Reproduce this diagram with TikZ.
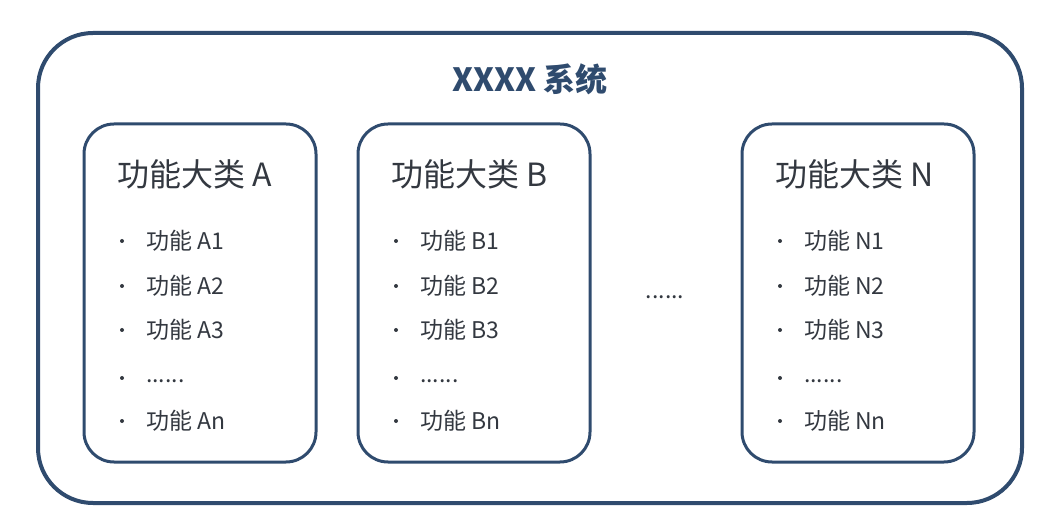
\documentclass[tikz,border=0pt]{standalone}
\usepackage{fontspec}
\setmainfont{Noto Sans CJK SC}
\definecolor{navy}{HTML}{2F4B6E}
\definecolor{txt}{HTML}{333840}
\begin{document}
\begin{tikzpicture}[x=1pt,y=-1pt,
  cat/.style={draw=navy,line width=3pt,rounded corners=30pt},
  head/.style={anchor=west,font=\fontsize{32}{36}\selectfont,text=txt,inner sep=0},
  item/.style={anchor=west,font=\fontsize{23}{26}\selectfont,text=txt,inner sep=0}]
\useasboundingbox (0,0) rectangle (1060,526);
\draw[draw=navy,line width=4pt,rounded corners=55pt] (38,33) rectangle (1022,503);
\node[font=\fontsize{32}{36}\selectfont\bfseries,text=navy] (title) at (530,79) {XXXX 系统};
\foreach \L/\x in {A/84,B/358,N/742}{
  \draw[cat] (\x,124) rectangle (\x+232,462);
  \node[head] (h\L) at (\x+33,174) {功能大类 \L};
  \foreach \t/\y in {1/241,2/286,3/330,n/421}{
    \node[item] (i\L\t) at (\x+62,\y) {功能 \L\t};
    \fill[txt] (\x+38,\y) circle (2pt);
  }
  \node[item] (d\L) at (\x+62,381) {......};
  \fill[txt] (\x+38,378) circle (2pt);
}
\node[font=\fontsize{23}{26}\selectfont,text=txt] (mid) at (665,297) {......};
\end{tikzpicture}
\end{document}
